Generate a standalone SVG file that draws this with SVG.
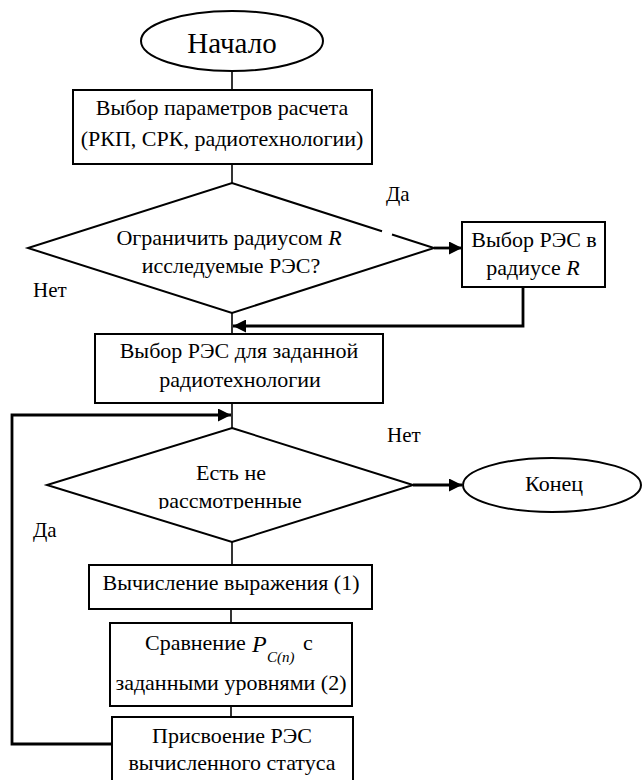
<svg xmlns="http://www.w3.org/2000/svg" width="643" height="780" viewBox="0 0 643 780">
<style>
.s{fill:#fff;stroke:#000;stroke-width:2}
.t{font-family:"Liberation Serif","Times New Roman",serif;font-size:22px;fill:#000;text-anchor:middle}
.l{font-family:"Liberation Serif","Times New Roman",serif;font-size:21px;fill:#000}
.c{fill:none;stroke:#000;stroke-width:1.6}
.a{fill:none;stroke:#000;stroke-width:2.8}
</style>
<defs>
<marker id="ah" markerUnits="userSpaceOnUse" markerWidth="14" markerHeight="13" refX="13" refY="6.5" orient="auto">
<path d="M0,0 L13,6.5 L0,13 z" fill="#000"/>
</marker>
<clipPath id="cl"><rect x="0" y="450" width="643" height="59"/></clipPath>
</defs>
<rect width="643" height="780" fill="#fff"/>

<g id="connectors">
<line class="c" x1="232" y1="72" x2="232" y2="90"/>
<line class="c" x1="232" y1="164" x2="232" y2="183"/>
<line class="a" x1="434" y1="248" x2="462" y2="248" marker-end="url(#ah)"/>
<polyline class="a" points="523,287 523,326 233,326" marker-end="url(#ah)"/>
<line class="c" x1="232" y1="313" x2="232" y2="334"/>
<line class="c" x1="232" y1="403" x2="232" y2="428"/>
<polyline class="a" points="112,744 12,744 12,415 231,415" marker-end="url(#ah)"/>
<line class="a" x1="413" y1="485" x2="462" y2="485" marker-end="url(#ah)"/>
<line class="c" x1="232" y1="542" x2="232" y2="565"/>
<line class="c" x1="231" y1="609" x2="231" y2="623"/>
<line class="c" x1="231" y1="706" x2="231" y2="717"/>
</g>

<g id="start">
<ellipse class="s" cx="232" cy="41" rx="91" ry="30"/>
<text class="t" x="232" y="53" style="font-size:29px">Начало</text>
</g>

<g id="params">
<rect class="s" x="73" y="90" width="299" height="74"/>
<text class="t" x="222" y="115">Выбор параметров расчета</text>
<text class="t" x="222" y="146">(РКП, СРК, радиотехнологии)</text>
</g>

<g id="decision1">
<path fill="#fff" d="M232,183 L434,248 L232,313 L28,248 Z"/>
<path fill="none" stroke="#000" stroke-width="2" d="M392,234.5 L434,248 L232,313 L28,248 L232,183 L382,231.3"/>
<text class="t" x="229" y="245">Ограничить радиусом <tspan font-style="italic">R</tspan></text>
<text class="t" x="231" y="273">исследуемые РЭС?</text>
</g>

<g id="radius">
<rect class="s" x="462" y="222" width="143" height="65"/>
<text class="t" x="534" y="247">Выбор РЭС в</text>
<text class="t" x="533" y="275">радиусе <tspan font-style="italic">R</tspan></text>
</g>

<g id="tech">
<rect class="s" x="95" y="334" width="288" height="69"/>
<text class="t" x="239" y="358">Выбор РЭС для заданной</text>
<text class="t" x="240" y="387">радиотехнологии</text>
</g>

<g id="decision2">
<polygon class="s" points="232,428 413,485 232,542 47,485"/>
<text class="t" x="231" y="480">Есть не</text>
<text class="t" x="230" y="508" clip-path="url(#cl)">рассмотренные</text>
</g>

<g id="end">
<ellipse class="s" cx="552" cy="485" rx="89" ry="27"/>
<text class="t" x="554" y="491">Конец</text>
</g>

<g id="calc">
<rect class="s" x="89" y="565" width="283" height="44"/>
<text class="t" x="231" y="590">Вычисление выражения (1)</text>
</g>

<g id="compare">
<rect class="s" x="110" y="623" width="242" height="83"/>
<text class="t" x="145" y="650" style="text-anchor:start">Сравнение</text>
<text class="t" x="252" y="652" style="text-anchor:start;font-style:italic;font-size:24px">P</text>
<text class="t" x="267" y="662" style="text-anchor:start;font-style:italic;font-size:15px">C(п)</text>
<text class="t" x="303" y="650" style="text-anchor:start">с</text>
<text class="t" x="231" y="690">заданными уровнями (2)</text>
</g>

<g id="assign">
<rect class="s" x="112" y="717" width="241" height="80"/>
<text class="t" x="232" y="743">Присвоение РЭС</text>
<text class="t" x="232" y="770">вычисленного статуса</text>
</g>

<g id="labels">
<text class="l" x="386" y="201">Да</text>
<text class="l" x="33" y="297">Нет</text>
<text class="l" x="387" y="442">Нет</text>
<text class="l" x="33" y="537">Да</text>
</g>
</svg>
